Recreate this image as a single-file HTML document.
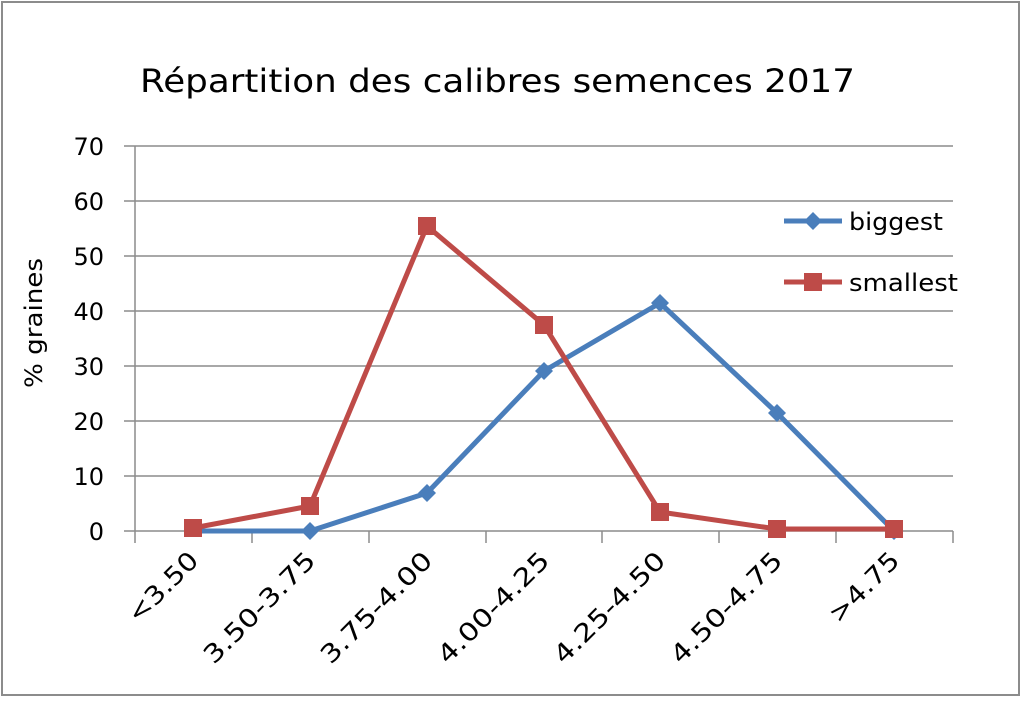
<!DOCTYPE html><html><head><style>body{margin:0;background:#fff}</style></head><body>
<svg width="1024" height="720" xmlns="http://www.w3.org/2000/svg" font-family="DejaVu Sans, Liberation Sans, sans-serif">
<rect x="2" y="2" width="1017" height="693" fill="#fff" stroke="#8c8c8c" stroke-width="2"/>
<text x="140" y="92" font-size="32" textLength="715" lengthAdjust="spacingAndGlyphs" fill="#000">Répartition des calibres semences 2017</text>
<g stroke="#8c8c8c" stroke-width="1.5">
<line x1="124" y1="146" x2="953" y2="146"/><line x1="124" y1="201" x2="953" y2="201"/><line x1="124" y1="256" x2="953" y2="256"/><line x1="124" y1="311" x2="953" y2="311"/><line x1="124" y1="366" x2="953" y2="366"/><line x1="124" y1="421" x2="953" y2="421"/><line x1="124" y1="476" x2="953" y2="476"/><line x1="124" y1="531" x2="953" y2="531"/>
<line x1="135" y1="146" x2="135" y2="543"/>
<line x1="252" y1="531" x2="252" y2="543"/><line x1="369" y1="531" x2="369" y2="543"/><line x1="486" y1="531" x2="486" y2="543"/><line x1="602" y1="531" x2="602" y2="543"/><line x1="719" y1="531" x2="719" y2="543"/><line x1="836" y1="531" x2="836" y2="543"/><line x1="953" y1="531" x2="953" y2="543"/>
</g>
<g font-size="24" text-anchor="end" fill="#000">
<text x="104" y="155">70</text><text x="104" y="210">60</text><text x="104" y="265">50</text><text x="104" y="320">40</text><text x="104" y="375">30</text><text x="104" y="430">20</text><text x="104" y="485">10</text><text x="104" y="540">0</text>
</g>
<text transform="translate(42,388) rotate(-90)" font-size="24" textLength="130" lengthAdjust="spacingAndGlyphs">% graines</text>
<g font-size="25" text-anchor="end">
<text transform="translate(200,562) rotate(-45)" textLength="88" lengthAdjust="spacingAndGlyphs">&lt;3.50</text>
<text transform="translate(317,562) rotate(-45)" textLength="146" lengthAdjust="spacingAndGlyphs">3.50-3.75</text>
<text transform="translate(434,562) rotate(-45)" textLength="146" lengthAdjust="spacingAndGlyphs">3.75-4.00</text>
<text transform="translate(551,562) rotate(-45)" textLength="146" lengthAdjust="spacingAndGlyphs">4.00-4.25</text>
<text transform="translate(667,562) rotate(-45)" textLength="146" lengthAdjust="spacingAndGlyphs">4.25-4.50</text>
<text transform="translate(784,562) rotate(-45)" textLength="146" lengthAdjust="spacingAndGlyphs">4.50-4.75</text>
<text transform="translate(901,562) rotate(-45)" textLength="88" lengthAdjust="spacingAndGlyphs">&gt;4.75</text>
</g>
<polyline fill="none" stroke="#4a7ebb" stroke-width="5" stroke-linejoin="round" points="193,531 310,531 427,493 544,371 660,303 777,413 894,531"/>
<g fill="#4a7ebb">
<path d="M310 522l9 9-9 9-9-9z"/><path d="M427 484l9 9-9 9-9-9z"/><path d="M544 362l9 9-9 9-9-9z"/><path d="M660 294l9 9-9 9-9-9z"/><path d="M777 404l9 9-9 9-9-9z"/><path d="M894 522l9 9-9 9-9-9z"/>
</g>
<polyline fill="none" stroke="#be4b48" stroke-width="5" stroke-linejoin="round" points="193,528 310,506 427,226 544,325 660,512 777,529 894,529"/>
<g fill="#be4b48">
<rect x="184" y="519" width="18" height="18"/><rect x="301" y="497" width="18" height="18"/><rect x="418" y="217" width="18" height="18"/><rect x="535" y="316" width="18" height="18"/><rect x="651" y="503" width="18" height="18"/><rect x="768" y="520" width="18" height="18"/><rect x="885" y="520" width="18" height="18"/>
</g>
<line x1="784" y1="221" x2="842" y2="221" stroke="#4a7ebb" stroke-width="5"/>
<path d="M813 212l9 9-9 9-9-9z" fill="#4a7ebb"/>
<text x="849" y="230" font-size="24" textLength="94" lengthAdjust="spacingAndGlyphs">biggest</text>
<line x1="784" y1="282" x2="842" y2="282" stroke="#be4b48" stroke-width="5"/>
<rect x="804" y="273" width="18" height="18" fill="#be4b48"/>
<text x="849" y="291" font-size="24" textLength="109" lengthAdjust="spacingAndGlyphs">smallest</text>
</svg></body></html>
